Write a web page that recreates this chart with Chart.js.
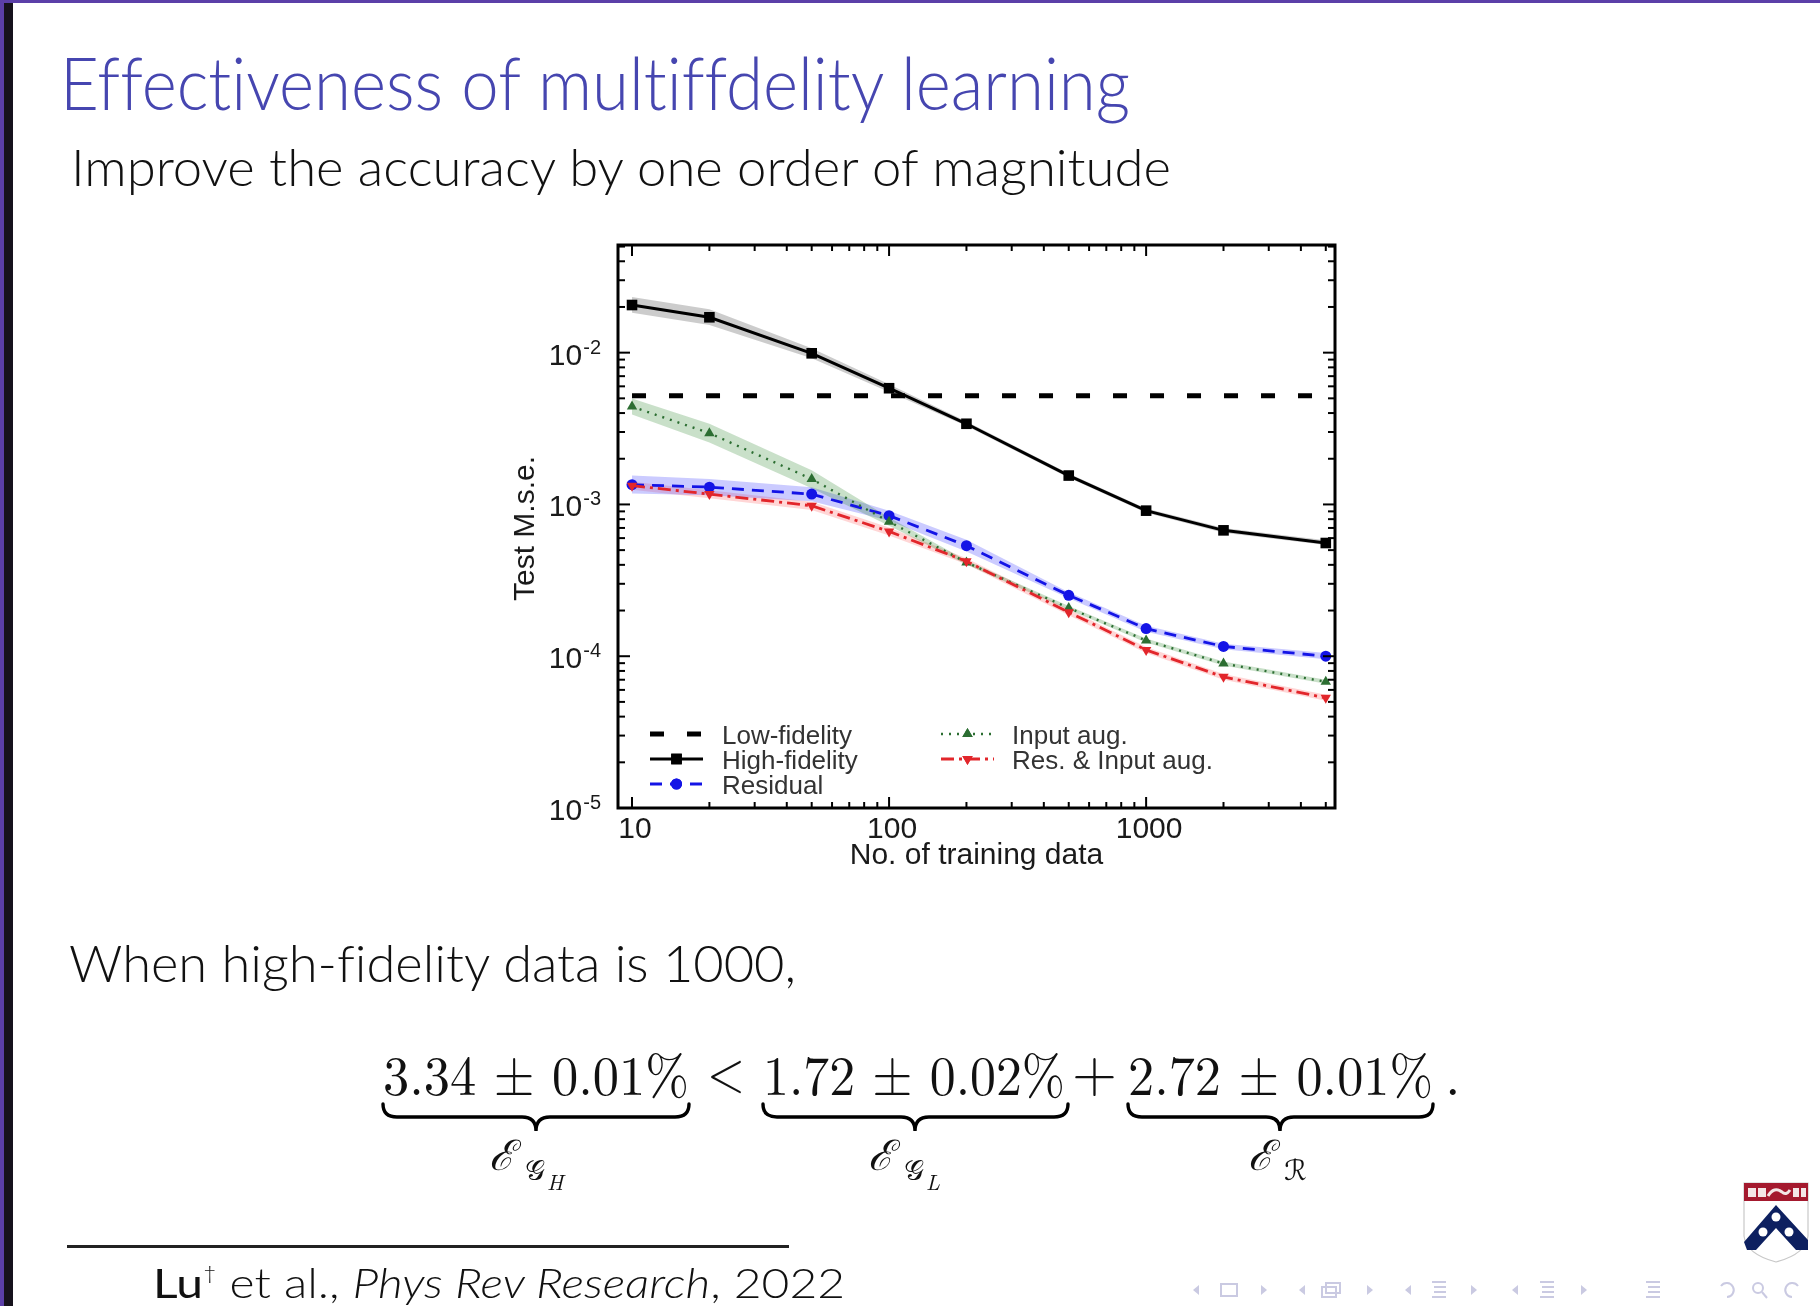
<!DOCTYPE html>
<html><head><meta charset="utf-8">
<script src="https://cdn.jsdelivr.net/npm/chart.js@4.4.1/dist/chart.umd.min.js"></script>
<style>
html,body{margin:0;padding:0;background:#fff;}
body{width:1820px;height:1306px;position:relative;overflow:hidden;}
#c{position:absolute;left:0;top:0;}
.t{position:absolute;white-space:nowrap;transform-origin:0 0;line-height:1.2;font-variant-ligatures:none;}
svg{position:absolute;left:0;top:0;}
</style></head><body>
<div style="position:absolute;left:0;top:0;width:1820px;height:3px;background:#5b3fa8"></div>
<div style="position:absolute;left:0;top:0;width:4px;height:1306px;background:#5b3fa8"></div>
<div style="position:absolute;left:4px;top:3px;width:9px;height:1303px;background:#16121c"></div>
<canvas id="c" width="1820" height="1306"></canvas>
<svg width="1820" height="1306" viewBox="0 0 1820 1306">
  <g fill="none" stroke="#000" stroke-width="3.4" stroke-linecap="round">
    <path d="M383,1104 Q383,1117 397,1117 L522,1117 Q536,1117 536,1131 Q536,1117 550,1117 L675,1117 Q689,1117 689,1104"/>
    <path d="M763,1104 Q763,1117 777,1117 L901,1117 Q915,1117 915,1131 Q915,1117 929,1117 L1054,1117 Q1068,1117 1068,1104"/>
    <path d="M1128,1104 Q1128,1117 1142,1117 L1266,1117 Q1280,1117 1280,1131 Q1280,1117 1294,1117 L1419,1117 Q1433,1117 1433,1104"/>
  </g>
  <rect x="67" y="1245" width="722" height="3" fill="#222"/>
  <!-- logo -->
  <path d="M1744,1183 L1808,1183 L1808,1236 Q1806,1254 1776,1262 Q1746,1254 1744,1236 Z" fill="#fff" stroke="#c8c8c8" stroke-width="1.2"/>
  <rect x="1744" y="1183" width="64" height="18" fill="#a4192e"/>
  <rect x="1748" y="1188" width="8" height="9" fill="#f3e6e6"/>
  <rect x="1758" y="1188" width="8" height="9" fill="#f3e6e6"/>
  <path d="M1768,1196 Q1774,1186 1782,1192 Q1786,1196 1790,1190" stroke="#f3e6e6" stroke-width="3" fill="none"/>
  <rect x="1793" y="1188" width="6" height="9" fill="#f3e6e6"/>
  <rect x="1801" y="1188" width="5" height="9" fill="#f3e6e6"/>
  <path d="M1776,1205 L1808,1240 L1808,1250 L1796,1250 L1776,1228 L1756,1250 L1747,1250 L1744,1242 Z" fill="#0d2060"/>
  <circle cx="1776" cy="1217" r="4.5" fill="#fff"/>
  <circle cx="1763" cy="1232" r="4.5" fill="#fff"/>
  <circle cx="1789" cy="1232" r="4.5" fill="#fff"/>
  <!-- nav -->
  <g fill="#cacae2" stroke="#cacae2" stroke-width="2">
    <path d="M1199,1285 L1193,1290 L1199,1295 Z" stroke="none"/>
    <rect x="1221" y="1284" width="16" height="12" fill="none"/>
    <path d="M1261,1285 L1267,1290 L1261,1295 Z" stroke="none"/>
    <path d="M1305,1285 L1299,1290 L1305,1295 Z" stroke="none"/>
    <rect x="1322" y="1287" width="14" height="10" fill="none"/>
    <rect x="1326" y="1283" width="14" height="10" fill="none"/>
    <path d="M1367,1285 L1373,1290 L1367,1295 Z" stroke="none"/>
    <path d="M1411,1285 L1405,1290 L1411,1295 Z" stroke="none"/>
    <path d="M1432,1282 H1446 M1434,1287 H1446 M1434,1292 H1446 M1432,1297 H1446" fill="none"/>
    <path d="M1471,1285 L1477,1290 L1471,1295 Z" stroke="none"/>
    <path d="M1518,1285 L1512,1290 L1518,1295 Z" stroke="none"/>
    <path d="M1540,1282 H1554 M1542,1287 H1554 M1542,1292 H1554 M1540,1297 H1554" fill="none"/>
    <path d="M1581,1285 L1587,1290 L1581,1295 Z" stroke="none"/>
    <path d="M1646,1282 H1660 M1648,1287 H1660 M1648,1292 H1660 M1646,1297 H1660" fill="none"/>
    <path d="M1721,1286 A7,7 0 1 1 1727,1297" fill="none"/>
    <circle cx="1758" cy="1288" r="5" fill="none"/>
    <path d="M1762,1292 L1767,1298" fill="none"/>
    <path d="M1798,1286 A7,7 0 1 0 1792,1297" fill="none"/>
  </g>
</svg>
<script>
// ---------------- data ----------------
const xValues = [10, 20, 50, 100, 200, 500, 1000, 2000, 5000];
const lowFidelityX = [10, 5000];
const lowFidelityY = [0.0052, 0.0052];
const highFidelity = [0.0206, 0.0171, 0.0099, 0.00583, 0.0034, 0.00155, 0.00091, 0.000675, 0.000557];
const highFidelityUpper = [0.0233, 0.0193, 0.0107, 0.0062, 0.00352, 0.0016, 0.00094, 0.0007, 0.00058];
const highFidelityLower = [0.0183, 0.0152, 0.0092, 0.0055, 0.00329, 0.0015, 0.00088, 0.00065, 0.00054];
const residual = [0.00135, 0.0013, 0.00117, 0.000843, 0.000535, 0.000252, 0.000152, 0.000116, 0.0001];
const residualUpper = [0.00155, 0.00147, 0.0013, 0.00091, 0.000586, 0.000264, 0.000159, 0.000121, 0.000105];
const residualLower = [0.00118, 0.00115, 0.00105, 0.00078, 0.000489, 0.000241, 0.000145, 0.000111, 0.0000955];
const inputAug = [0.00441, 0.00295, 0.00147, 0.00077, 0.000415, 0.000208, 0.000127, 0.0000895, 0.0000679];
const inputAugUpper = [0.00498, 0.0034, 0.00168, 0.00082, 0.000428, 0.000214, 0.000131, 0.0000922, 0.00007];
const inputAugLower = [0.00391, 0.00256, 0.00128, 0.000725, 0.000402, 0.000202, 0.000123, 0.0000868, 0.0000659];
const resInputAug = [0.00133, 0.00117, 0.00098, 0.000664, 0.000422, 0.000195, 0.00011, 0.0000731, 0.0000532];
const resInputAugUpper = [0.00141, 0.00124, 0.00104, 0.000705, 0.000442, 0.000204, 0.000115, 0.0000765, 0.0000557];
const resInputAugLower = [0.00125, 0.0011, 0.00092, 0.000625, 0.000403, 0.000186, 0.000105, 0.0000699, 0.0000508];
const seriesLabels = ['Low-fidelity', 'High-fidelity', 'Residual', 'Input aug.', 'Res. & Input aug.'];
const xTickValues = [10, 100, 1000];
const xTickLabels = ['10', '100', '1000'];
const yTickValues = [1e-2, 1e-3, 1e-4, 1e-5];
const yTickBase = ['10', '10', '10', '10'];
const yTickExp = ['-2', '-3', '-4', '-5'];
const xTitle = 'No. of training data';
const yTitle = 'Test M.s.e.';

// ---------------- chart ----------------
const pts = (xs, ys) => xs.map((x, i) => ({x: x, y: ys[i]}));
const band = (ys, color, fill) => ({data: pts(xValues, ys), borderWidth: 0, pointRadius: 0, backgroundColor: color, fill: fill, order: 20});
const BLUE = '#1414e6', GREEN = '#2c6e32', RED = '#e2262b';

const datasets = [
  band(highFidelityUpper, 'rgba(0,0,0,0.2)', '+1'), band(highFidelityLower, 'rgba(0,0,0,0)', false),
  band(inputAugUpper, 'rgba(40,130,40,0.25)', '+1'), band(inputAugLower, 'rgba(0,0,0,0)', false),
  band(residualUpper, 'rgba(70,70,255,0.28)', '+1'), band(residualLower, 'rgba(0,0,0,0)', false),
  band(resInputAugUpper, 'rgba(255,70,70,0.22)', '+1'), band(resInputAugLower, 'rgba(0,0,0,0)', false),
  {label: seriesLabels[0], data: pts(lowFidelityX, lowFidelityY), borderColor: '#000', borderWidth: 5, borderDash: [14, 23], pointRadius: 0, fill: false, order: 5},
  {label: seriesLabels[1], data: pts(xValues, highFidelity), borderColor: '#000', backgroundColor: '#000', borderWidth: 3, pointStyle: 'rect', pointRadius: 7.5, pointBorderWidth: 0, fill: false, order: 4},
  {label: seriesLabels[2], data: pts(xValues, residual), borderColor: BLUE, backgroundColor: BLUE, borderWidth: 2.8, borderDash: [12, 8], pointStyle: 'circle', pointRadius: 5.5, pointBorderWidth: 0, fill: false, order: 3},
  {label: seriesLabels[3], data: pts(xValues, inputAug), borderColor: GREEN, backgroundColor: GREEN, borderWidth: 2.4, borderDash: [2, 6], pointStyle: 'triangle', pointRadius: 6, pointBorderWidth: 0, fill: false, order: 2},
  {label: seriesLabels[4], data: pts(xValues, resInputAug), borderColor: RED, backgroundColor: RED, borderWidth: 2.8, borderDash: [13, 5, 3, 5], pointStyle: 'triangle', pointRotation: 180, pointRadius: 6, pointBorderWidth: 0, fill: false, order: 1}
];

function marker(ctx, style, r, rot, x, y, color) {
  ctx.save(); ctx.fillStyle = color; ctx.setLineDash([]);
  if (Chart.helpers && Chart.helpers.drawPoint) {
    Chart.helpers.drawPoint(ctx, {pointStyle: style, radius: r, rotation: rot, borderWidth: 0}, x, y);
    ctx.fill();
  }
  ctx.restore();
}

const decor = {
  id: 'decor',
  afterDraw(chart) {
    const ctx = chart.ctx, a = chart.chartArea, xs = chart.scales.x, ys = chart.scales.y;
    ctx.save();
    ctx.strokeStyle = '#000'; ctx.lineWidth = 2; ctx.setLineDash([]);
    const line = (x1, y1, x2, y2) => { ctx.beginPath(); ctx.moveTo(x1, y1); ctx.lineTo(x2, y2); ctx.stroke(); };
    for (let k = 1; k <= 3; k++) for (let m = 1; m <= 9; m++) {
      const v = m * Math.pow(10, k);
      if (v < 10 || v > xs.max) continue;
      const px = xs.getPixelForValue(v), L = m === 1 ? 11 : 6;
      line(px, a.bottom, px, a.bottom - L); line(px, a.top, px, a.top + L);
    }
    for (let k = -5; k <= -2; k++) for (let m = 1; m <= 9; m++) {
      const v = m * Math.pow(10, k);
      if (v > ys.max * 0.99) continue;
      const py = ys.getPixelForValue(v), L = m === 1 ? 12 : 7;
      line(a.left, py, a.left + L, py); line(a.right, py, a.right - L, py);
    }
    ctx.lineWidth = 3;
    ctx.strokeRect(a.left, a.top, a.right - a.left, a.bottom - a.top);

    // tick labels
    ctx.fillStyle = '#1a1a1a';
    ctx.textBaseline = 'alphabetic';
    ctx.font = '30px "Liberation Sans"'; ctx.textAlign = 'center';
    xTickValues.forEach((v, i) => ctx.fillText(xTickLabels[i], xs.getPixelForValue(v) + 3, a.bottom + 30));
    yTickValues.forEach((v, i) => {
      const py = ys.getPixelForValue(v);
      ctx.font = '20px "Liberation Sans"'; ctx.textAlign = 'right';
      const ew = ctx.measureText(yTickExp[i]).width;
      ctx.fillText(yTickExp[i], a.left - 17, py + 1);
      ctx.font = '30px "Liberation Sans"';
      ctx.fillText(yTickBase[i], a.left - 18 - ew, py + 12);
    });
    // axis titles
    ctx.font = '30px "Liberation Sans"'; ctx.textAlign = 'center';
    ctx.fillText(xTitle, (a.left + a.right) / 2, a.bottom + 56);
    ctx.save(); ctx.translate(a.left - 84, (a.top + a.bottom) / 2 + 2); ctx.rotate(-Math.PI / 2);
    ctx.fillText(yTitle, 0, 0); ctx.restore();

    // legend
    const entries = [
      {ds: 8, x: 650, y: 734, tx: 722}, {ds: 9, x: 650, y: 759, tx: 722}, {ds: 10, x: 650, y: 784, tx: 722},
      {ds: 11, x: 941, y: 734, tx: 1012}, {ds: 12, x: 941, y: 759, tx: 1012}
    ];
    entries.forEach(e => {
      const d = chart.data.datasets[e.ds];
      ctx.save();
      ctx.strokeStyle = d.borderColor; ctx.lineWidth = d.borderWidth;
      ctx.setLineDash(d.borderDash || []);
      line(e.x, e.y, e.x + 53, e.y);
      ctx.restore();
      if (d.pointRadius) marker(ctx, d.pointStyle, d.pointRadius, d.pointRotation || 0, e.x + 26.5, e.y, d.backgroundColor);
      ctx.fillStyle = '#333'; ctx.font = '26px "Liberation Sans"'; ctx.textAlign = 'left';
      ctx.fillText(d.label, e.tx, e.y + 10);
    });
    ctx.restore();
  }
};

new Chart(document.getElementById('c'), {
  type: 'line',
  data: {datasets: datasets},
  options: {
    responsive: false, animation: false, devicePixelRatio: 1,
    layout: {padding: {left: 618, top: 245, right: 485, bottom: 498}},
    plugins: {legend: {display: false}, tooltip: {enabled: false}, filler: {propagate: false}},
    elements: {line: {tension: 0}},
    scales: {
      x: {type: 'logarithmic', min: 8.82, max: 5430, display: false},
      y: {type: 'logarithmic', min: 1e-5, max: 0.0512, display: false}
    }
  },
  plugins: [decor]
});

// ---------------- slide text ----------------
function place(html, x, base, size, o) {
  o = o || {};
  const d = document.createElement('div');
  d.className = 't';
  d.style.left = x + 'px';
  d.style.fontFamily = o.font || 'Lato';
  d.style.fontSize = size + 'px';
  d.style.color = o.color || '#111';
  if (o.style) d.style.fontStyle = o.style;
  if (o.weight) d.style.fontWeight = o.weight;
  d.innerHTML = html + '<span class="bm" style="display:inline-block;width:0;height:0;vertical-align:baseline"></span>';
  document.body.appendChild(d);
  const off = d.querySelector('.bm').offsetTop;
  d.style.top = (base - off) + 'px';
  if (o.w) {
    const w = d.getBoundingClientRect().width;
    d.style.transform = 'scaleX(' + (o.w / w) + ')';
  }
  return d;
}
place('Effectiveness of multiffdelity learning', 60, 110, 72, {color: '#4646b0', w: 1070, weight: 300});
place('Improve the accuracy by one order of magnitude', 71, 186, 51, {color: '#111', w: 1100, weight: 300});
place('When high-fidelity data is 1000,', 69, 982, 51, {color: '#111', w: 727, weight: 300});
const SERIF = '"Latin Modern Roman","Liberation Serif","DejaVu Serif",serif';
place('3.34 ± 0.01%', 383, 1095, 56, {font: SERIF, w: 306});
place('&lt;', 707, 1091, 56, {font: SERIF, w: 38});
place('1.72 ± 0.02%', 763, 1095, 56, {font: SERIF, w: 302});
place('+', 1072, 1091, 56, {font: SERIF, w: 45});
place('2.72 ± 0.01%', 1128, 1095, 56, {font: SERIF, w: 305});
place('.', 1445, 1095, 56, {font: SERIF});
function sublabel(x, subHtml) {
  place('ℰ', x, 1170, 42, {font: '"DejaVu Serif",serif', style: 'italic'});
  subHtml(x);
}
sublabel(489, x => { place('𝒢', x + 36, 1180, 28, {font: '"DejaVu Sans","DejaVu Serif",serif'}); place('H', x + 58, 1190, 22, {font: SERIF, style: 'italic'}); });
sublabel(868, x => { place('𝒢', x + 36, 1180, 28, {font: '"DejaVu Sans","DejaVu Serif",serif'}); place('L', x + 58, 1190, 22, {font: SERIF, style: 'italic'}); });
sublabel(1248, x => { place('ℛ', x + 36, 1180, 28, {font: '"DejaVu Sans","DejaVu Serif",serif'}); });
place('<b>Lu</b><span style="font-size:20px;position:relative;top:-18px">†</span> et al., <i>Phys Rev Research</i>, 2022', 153, 1298, 41, {color: '#111', w: 692, weight: 300});
</script>
</body></html>
